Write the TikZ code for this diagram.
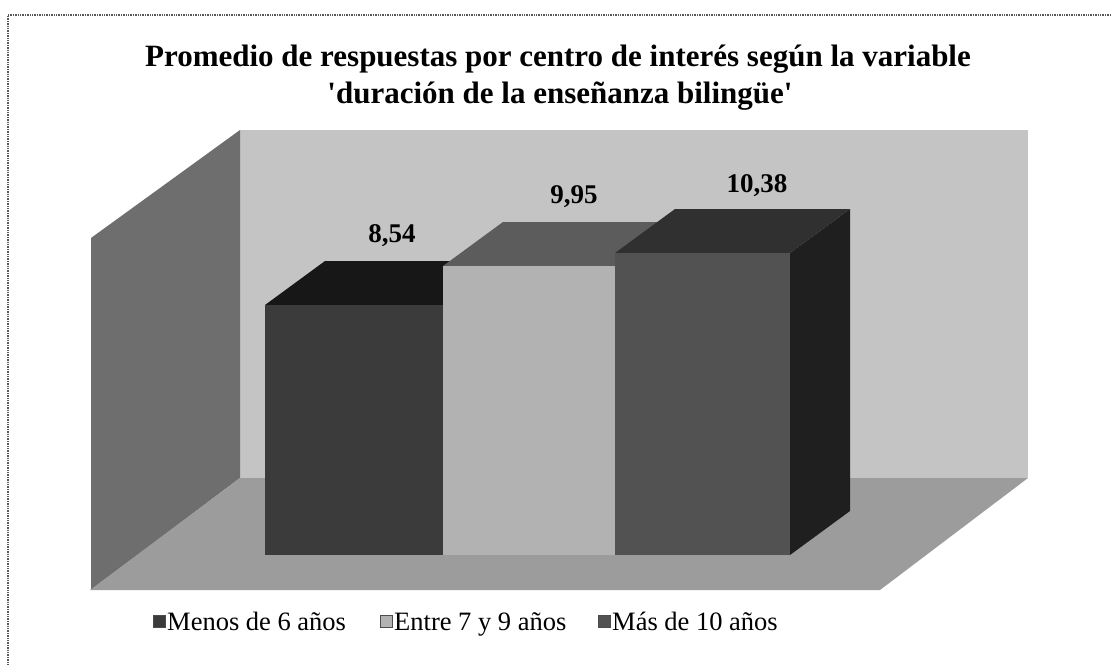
\documentclass[tikz,border=0pt]{standalone}
\usepackage{fontspec}
\setmainfont{Liberation Serif}[Ligatures=TeXOff]
\begin{document}
\begin{tikzpicture}[x=1pt,y=-1pt,
  titletext/.style={anchor=base,inner sep=0pt,font=\bfseries\fontsize{31}{37}\selectfont},
  valtext/.style={anchor=base,inner sep=0pt,font=\bfseries\fontsize{27}{32}\selectfont},
  legtext/.style={anchor=base west,inner sep=0pt,font=\fontsize{26.5}{31}\selectfont},
  legbox/.style={inner sep=0pt,minimum size=12pt,draw=black!70,line width=0.4pt},
  frameline/.style={draw=black!65,line width=1.4pt,densely dotted}]
\definecolor{backwall}{gray}{0.77}
\definecolor{leftwall}{gray}{0.43}
\definecolor{floorc}{gray}{0.61}
\definecolor{aFront}{gray}{0.23}
\definecolor{aTop}{gray}{0.09}
\definecolor{bFront}{gray}{0.70}
\definecolor{bTop}{gray}{0.36}
\definecolor{bSide}{gray}{0.30}
\definecolor{cFront}{gray}{0.32}
\definecolor{cTop}{gray}{0.19}
\definecolor{cSide}{gray}{0.12}
\useasboundingbox (0,0) rectangle (1111,666);
\fill[white] (0,0) rectangle (1111,666);
% frame (only top and left visible)
\coordinate (fTL) at (8,15);
\coordinate (fTR) at (1111,15);
\coordinate (fBL) at (8,666);
\draw[frameline] (fTR) -- (fTL) -- (fBL);
% title
\node[titletext] (title1) at (558,67) {Promedio de respuestas por centro de interés según la variable};
\node[titletext] (title2) at (560,104) {'duración de la enseñanza bilingüe'};
% walls and floor
\fill[backwall] (240,130) rectangle (1028,478);
\fill[leftwall] (91,238) -- (240,130) -- (240,478) -- (91,590) -- cycle;
\fill[floorc] (90,590) -- (240,478) -- (1028,478) -- (880,590) -- cycle;
% bar 1
\fill[aTop] (443,305) -- (503,261) -- (503,511) -- (443,555) -- cycle;
\fill[aTop] (265,305) -- (443,305) -- (503,261) -- (325,261) -- cycle;
\fill[aFront] (265,305) rectangle (443,555);
% bar 2
\fill[bSide] (615,266) -- (675,222) -- (675,511) -- (615,555) -- cycle;
\fill[bTop] (443,266) -- (615,266) -- (675,222) -- (503,222) -- cycle;
\fill[bFront] (443,266) rectangle (615,555);
% bar 3
\fill[cSide] (790,253) -- (850,209) -- (850,511) -- (790,555) -- cycle;
\fill[cTop] (615,253) -- (790,253) -- (850,209) -- (675,209) -- cycle;
\fill[cFront] (615,253) rectangle (790,555);
% value labels
\node[valtext] (v1) at (392,242) {8,54};
\node[valtext] (v2) at (574,203) {9,95};
\node[valtext] (v3) at (757,192) {10,38};
% legend
\node[legbox,fill=aFront] (k1) at (159,621) {};
\node[legtext] (l1) at (167,630) {Menos de 6 años};
\node[legbox,fill=bFront] (k2) at (386,621) {};
\node[legtext] (l2) at (394,630) {Entre 7 y 9 años};
\node[legbox,fill=cFront] (k3) at (604,621) {};
\node[legtext] (l3) at (612,630) {Más de 10 años};
\end{tikzpicture}
\end{document}
